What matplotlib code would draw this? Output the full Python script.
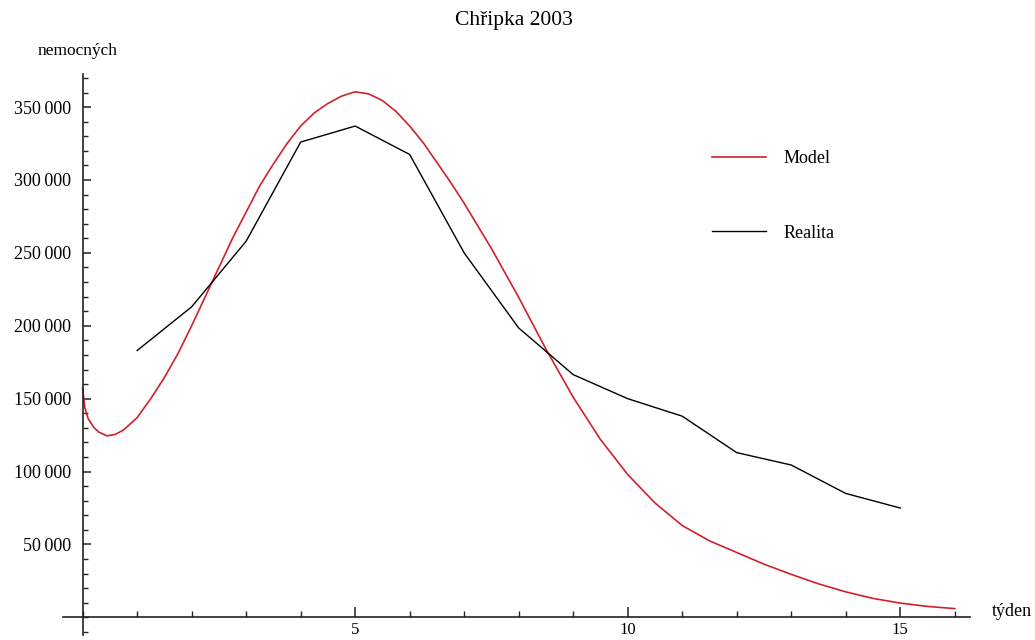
import matplotlib
matplotlib.use("Agg")
import matplotlib.pyplot as plt
from matplotlib.ticker import FixedLocator, MultipleLocator, NullFormatter

plt.rcParams['font.family'] = ['Liberation Serif', 'DejaVu Serif']

# ---- data ----
title = "Chřipka 2003"
x_label = "týden"
y_label = "nemocných"
legend_labels = ["Model", "Realita"]

weeks_real = [1, 2, 3, 4, 5, 6, 7, 8, 9, 10, 11, 12, 13, 14, 15]
real_values = [183000, 213000, 258000, 326000, 337000, 317500, 250000, 198500,
               166500, 150000, 138000, 113000, 104500, 85000, 75000]

model_t = [0, 0.04, 0.1, 0.2, 0.3, 0.45, 0.6, 0.75, 1, 1.25, 1.5, 1.75, 2, 2.25,
           2.5, 2.75, 3, 3.25, 3.5, 3.75, 4, 4.25, 4.5, 4.75, 5, 5.25, 5.5, 5.75,
           6, 6.25, 6.5, 6.75, 7, 7.5, 8, 8.5, 9, 9.5, 10, 10.5, 11, 11.5, 12,
           12.5, 13, 13.5, 14, 14.5, 15, 15.5, 16]
model_values = [157000, 144000, 136500, 130500, 127000, 124500, 125500, 128500,
                137000, 150000, 164500, 181000, 200000, 220000, 240000, 260000,
                278000, 296000, 311000, 325000, 337000, 346000, 352500, 357500,
                360500, 359000, 354500, 347000, 337000, 325500, 312000, 298500,
                284000, 253000, 219500, 184000, 151000, 122000, 98000, 78500,
                63000, 52500, 44500, 36500, 29500, 23000, 17500, 13000, 9800,
                7500, 6000]

x_major = [5, 10, 15]
x_major_labels = ["5", "10", "15"]
y_major = [50000, 100000, 150000, 200000, 250000, 300000, 350000]
y_major_labels = ["50\u2009000", "100\u2009000", "150\u2009000", "200\u2009000",
                  "250\u2009000", "300\u2009000", "350\u2009000"]

# ---- figure ----
W, H = 1035, 640
fig = plt.figure(figsize=(W / 100, H / 100), dpi=100)
ax = fig.add_axes([63 / W, (H - 635) / H, 907 / W, 561 / H])
ax.set_xlim(-0.36, 16.28)
ax.set_ylim(-12100, 372700)

red = '#d0202e'
l1, = ax.plot(model_t, model_values, color=red, lw=1.2, label=legend_labels[0])
l2, = ax.plot(weeks_real, real_values, color='black', lw=1.0, label=legend_labels[1])

for s in ['top', 'right']:
    ax.spines[s].set_visible(False)
ax.spines['left'].set_position(('data', 0))
ax.spines['bottom'].set_position(('data', 0))
for s in ['left', 'bottom']:
    ax.spines[s].set_linewidth(1.2)
    ax.spines[s].set_color('#222222')

ax.xaxis.set_major_locator(FixedLocator(x_major))
ax.set_xticklabels(x_major_labels)
ax.xaxis.set_minor_locator(MultipleLocator(1))
ax.yaxis.set_major_locator(FixedLocator(y_major))
ax.set_yticklabels(y_major_labels)
ax.yaxis.set_minor_locator(MultipleLocator(10000))
ax.xaxis.set_minor_formatter(NullFormatter())
ax.yaxis.set_minor_formatter(NullFormatter())

ax.tick_params(axis='x', which='major', direction='in', length=7, width=1.1,
               pad=3.0, labelsize=12, color='#222222')
ax.tick_params(axis='x', which='minor', direction='in', length=4, width=1.0,
               color='#222222')
ax.tick_params(axis='y', which='major', direction='in', length=5.5, width=1.1,
               pad=8.5, labelsize=13, color='#222222')
ax.tick_params(axis='y', which='minor', direction='in', length=3.5, width=1.0,
               color='#222222')

ax.patch.set_visible(False)

fig.text(514 / W, 1 - 21 / H, title, ha='center', va='center', fontsize=15.5)
fig.text(78 / W, 1 - 51 / H, y_label, ha='center', va='center', fontsize=12.5)
fig.text(992 / W, 1 - 612 / H, x_label, ha='left', va='center', fontsize=13)

leg = ax.legend(handles=[l1, l2], loc='upper left',
                bbox_to_anchor=(712 / W, 1 - 150 / H), bbox_transform=fig.transFigure,
                frameon=False, fontsize=13, handlelength=3.0, handletextpad=0.95,
                labelspacing=3.2, borderpad=0, borderaxespad=0)

fig.savefig("out.png", dpi=100)
